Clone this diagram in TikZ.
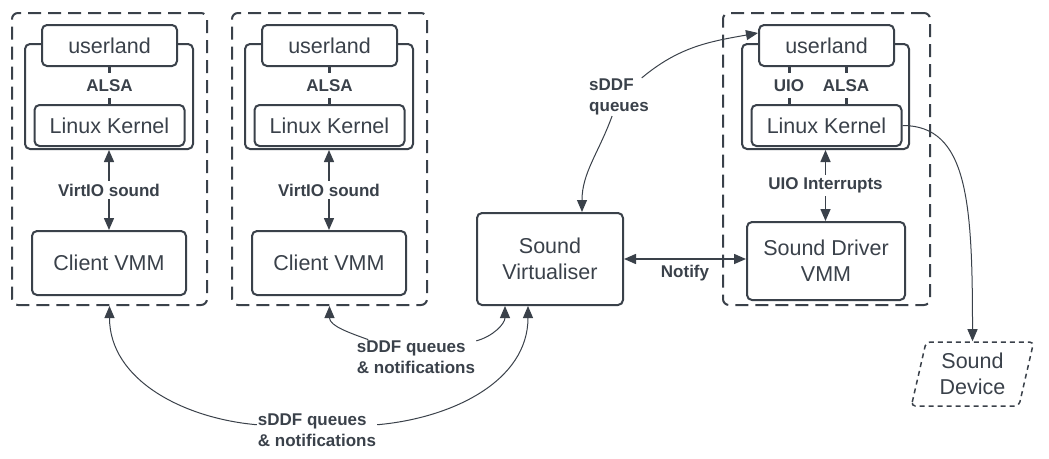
\documentclass[tikz,border=0pt]{standalone}
\usepackage{fontspec}
\setmainfont{Liberation Sans}
\usetikzlibrary{positioning, arrows.meta, shapes.geometric}
\definecolor{ink}{RGB}{58,65,74}
\tikzset{
    box/.style={
           rectangle,
           rounded corners=5pt,
           draw=ink, line width=2pt,
           fill=white,
           text=ink,
           align=center,
           inner sep=0pt,
           font=\fontsize{21.5}{26}\selectfont,
           },
    userbox/.style={box, minimum width=135pt, minimum height=41pt},
    kernelbox/.style={box, minimum width=150pt, minimum height=41pt},
    osbox/.style={box, minimum width=168pt, minimum height=105pt},
    vm/.style={
           rectangle,
           rounded corners=6pt,
           draw=ink, line width=2pt,
           dash pattern=on 13pt off 7pt,
           minimum width=195pt, minimum height=292pt,
           },
    device/.style={
           trapezium, trapezium left angle=76, trapezium right angle=104,
           trapezium stretches=true,
           minimum width=123pt, minimum height=64pt,
           rounded corners=4pt,
           draw=ink, line width=1.5pt,
           dash pattern=on 5pt off 4pt,
           text=ink, align=center, inner sep=0pt,
           font=\fontsize{21.5}{26}\selectfont,
           },
    lbl/.style={text=ink, inner sep=1pt, align=left,
           font=\fontsize{17}{20.5}\selectfont\bfseries},
    cut/.style={lbl, fill=white, inner xsep=2pt, inner ysep=6pt},
    tick/.style={draw=ink, line width=3pt},
    dbl/.style={draw=ink, line width=1.5pt, <->},
    link/.style={draw=ink, line width=1pt, ->},
}

\begin{document}
\begin{tikzpicture}[x=1pt, y=1pt, >={Triangle[length=12pt,width=10pt]}]
  \useasboundingbox (0,0) rectangle (1049,-458);

  % first client guest
  \node[vm]                                 (Guest1)  at (109.5,-159)   {};
  \node[osbox]                              (OS1)     at (109,-96.5)    {};
  \node[userbox]                            (User1)   at (109.5,-45.5)  {userland};
  \node[kernelbox, below=37pt of User1]     (Kernel1)                   {Linux Kernel};
  \node[box, minimum width=154pt, minimum height=64pt, below=80pt of OS1]
                                            (VMM1)                      {Client VMM};

  % second client guest
  \node[vm]                                 (Guest2)  at (329.5,-159)   {};
  \node[osbox]                              (OS2)     at (329,-96.5)    {};
  \node[userbox]                            (User2)   at (329.5,-45.5)  {userland};
  \node[kernelbox, below=37pt of User2]     (Kernel2)                   {Linux Kernel};
  \node[box, minimum width=154pt, minimum height=64pt, below=80pt of OS2]
                                            (VMM2)                      {Client VMM};

  % driver guest
  \node[vm, minimum width=207pt]            (Driver)  at (826.5,-159)   {};
  \node[osbox, minimum width=167pt]         (OS3)     at (825.5,-96.5)  {};
  \node[userbox]                            (User3)   at (826.5,-45.5)  {userland};
  \node[kernelbox, below=37pt of User3]     (Kernel3)                   {Linux Kernel};
  \node[box, minimum width=158pt, minimum height=78pt]
                                            (DrvVMM)  at (826,-261)     {Sound Driver\\VMM};

  \node[box, minimum width=146pt, minimum height=92pt]
                                            (Virt)    at (550,-259)     {Sound\\Virtualiser};
  \node[device]                             (Device)  at (972.5,-374)   {Sound\\Device};

  \node[lbl]                                (Queues)  at (619,-97)      {sDDF\\queues};
  \node[lbl]                                (NotesA)  at (317,-430)     {sDDF queues\\\& notifications};
  \node[lbl]                                (NotesB)  at (416,-357)     {sDDF queues\\\& notifications};

%  userland -- kernel
  \draw[tick] (User1) -- node[cut]{ALSA} (Kernel1);
  \draw[tick] (User2) -- node[cut]{ALSA} (Kernel2);
  \draw[tick] ([xshift=-37.5pt]User3.south) -- node[cut]{UIO}  ([xshift=-37.5pt]Kernel3.north);
  \draw[tick] ([xshift=19.5pt]User3.south)  -- node[cut]{ALSA} ([xshift=19.5pt]Kernel3.north);

%  kernel <-> vmm
  \draw[dbl] (OS1.south) -- node[cut, inner ysep=3pt]{VirtIO sound}   (VMM1.north);
  \draw[dbl] (OS2.south) -- node[cut, inner ysep=3pt]{VirtIO sound}   (VMM2.north);
  \draw[dbl] (OS3.south) -- node[cut, inner ysep=3pt]{UIO Interrupts} (OS3.south |- DrvVMM.north);

%  virtualiser <-> driver
  \draw[dbl] (Virt.east) -- node[lbl, below=4pt]{Notify} (Virt.east -| DrvVMM.west);

%  virtualiser <-> driver userland
  \draw[link] (Queues) to[out=250, in=90]  ([xshift=32pt]Virt.north);
  \draw[link] (Queues) to[out=40,  in=190] ([yshift=12.5pt]User3.west);

%  clients <-> virtualiser
  \draw[link] (NotesA) to[out=175, in=270] (Guest1.south);
  \draw[link] (NotesA) to[out=5,   in=270] ([xshift=-22pt]Virt.south);
  \draw[link] (NotesB) to[out=160, in=270] (Guest2.south);
  \draw[link] (NotesB) to[out=15,  in=270] ([xshift=-45pt]Virt.south);

%  driver kernel -> device
  \draw[link] (Kernel3.east) to[out=0, in=90, out distance=65pt, in distance=140pt] (Device.north);

\end{tikzpicture}
\end{document}
